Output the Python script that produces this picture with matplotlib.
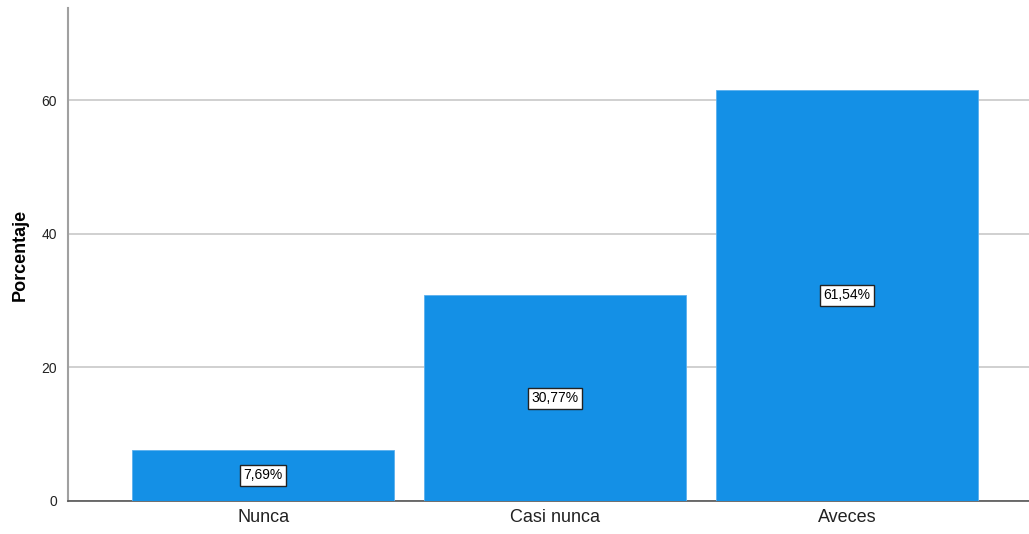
import matplotlib.pyplot as plt

# Datos
categorias = ["Nunca", "Casi nunca", "Aveces"]
porcentajes = [7.69, 30.77, 61.54]
etiquetas = ["7,69%", "30,77%", "61,54%"]
ticks_y = [0, 20, 40, 60]


def run():
    plt.rcParams['font.family'] = ['Liberation Sans', 'DejaVu Sans']
    fig = plt.figure(figsize=(10.29, 5.34), dpi=100)
    ax = fig.add_axes([0.0661, 0.0618, 0.9339, 0.9232])

    x = list(range(len(categorias)))
    ax.bar(x, porcentajes, width=0.897, color="#1490E6", edgecolor="#5BB0EE",
           linewidth=0.6, zorder=3)

    for xi, val, txt in zip(x, porcentajes, etiquetas):
        ax.text(xi, val / 2, txt, ha="center", va="center", fontsize=10,
                zorder=4,
                bbox=dict(boxstyle="square,pad=0.25", facecolor="white",
                          edgecolor="#222222", linewidth=1.0))

    ax.set_xlim(-0.668, 2.623)
    ax.set_ylim(0, 73.8)
    ax.set_xticks(x)
    ax.set_xticklabels(categorias, fontsize=13, color="#222222")
    ax.set_yticks(ticks_y)
    ax.set_yticklabels([str(t) for t in ticks_y], fontsize=10, color="#222222")
    ax.tick_params(axis="both", length=0, pad=8)
    ax.tick_params(axis="x", pad=6)

    ax.yaxis.grid(True, color="#C8C8C8", linewidth=1.2, zorder=0)
    ax.set_axisbelow(True)

    for side in ["top", "right"]:
        ax.spines[side].set_visible(False)
    ax.spines["left"].set_color("#A0A0A0")
    ax.spines["left"].set_linewidth(1.5)
    ax.spines["bottom"].set_color("#555555")
    ax.spines["bottom"].set_linewidth(1.2)

    ax.set_ylabel("Porcentaje", fontsize=13, fontweight="bold", labelpad=9)

    fig.savefig("out.png", dpi=100)


def main():
    run()


if __name__ == '__main__':
    main()
